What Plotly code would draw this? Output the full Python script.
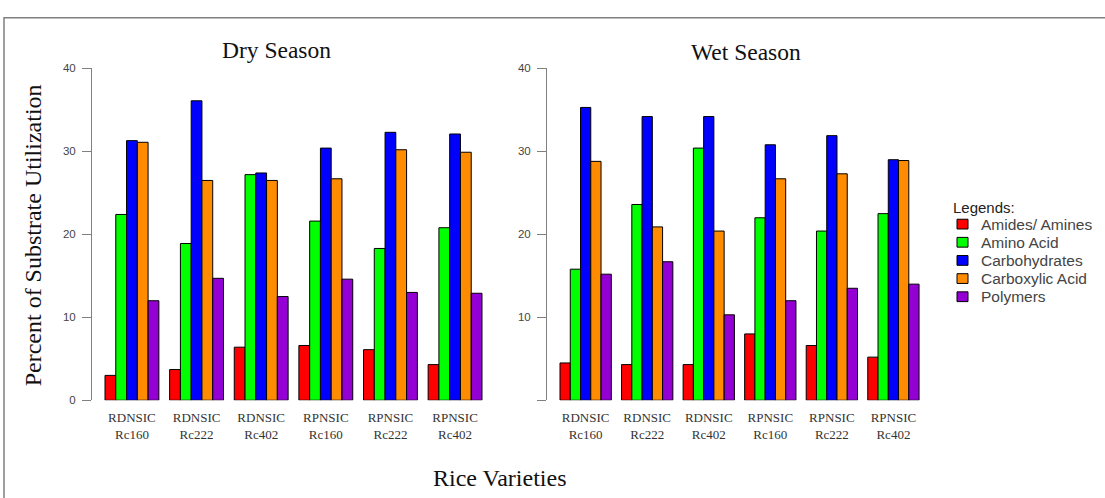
import plotly.graph_objects as go

# Rice varieties (two-line tick labels)
varieties = ["RDNSIC<br>Rc160", "RDNSIC<br>Rc222", "RDNSIC<br>Rc402",
             "RPNSIC<br>Rc160", "RPNSIC<br>Rc222", "RPNSIC<br>Rc402"]

substrates = ["Amides/ Amines", "Amino Acid", "Carbohydrates", "Carboxylic Acid", "Polymers"]
colors = ["#FF0000", "#00FF00", "#0000FF", "#FF8C00", "#9400D3"]

# Dry season: percent of substrate utilization
dry_amides = [3.0, 3.7, 6.4, 6.6, 6.1, 4.3]
dry_amino = [22.4, 18.9, 27.2, 21.6, 18.3, 20.8]
dry_carbo = [31.3, 36.1, 27.4, 30.4, 32.3, 32.1]
dry_carboxylic = [31.1, 26.5, 26.5, 26.7, 30.2, 29.9]
dry_polymers = [12.0, 14.7, 12.5, 14.6, 13.0, 12.9]

# Wet season: percent of substrate utilization
wet_amides = [4.5, 4.3, 4.3, 8.0, 6.6, 5.2]
wet_amino = [15.8, 23.6, 30.4, 22.0, 20.4, 22.5]
wet_carbo = [35.3, 34.2, 34.2, 30.8, 31.9, 29.0]
wet_carboxylic = [28.8, 20.9, 20.4, 26.7, 27.3, 28.9]
wet_polymers = [15.2, 16.7, 10.3, 12.0, 13.5, 14.0]

dry = [dry_amides, dry_amino, dry_carbo, dry_carboxylic, dry_polymers]
wet = [wet_amides, wet_amino, wet_carbo, wet_carboxylic, wet_polymers]

SERIF = "Liberation Serif, Times New Roman, serif"
SANS = "Liberation Sans, Arial, sans-serif"
W, H = 1105, 498


def px_x(p):
    return p / W


def px_y(p):
    return 1 - p / H


fig = go.Figure()

for name, color, dv, wv in zip(substrates, colors, dry, wet):
    fig.add_trace(go.Bar(x=varieties, y=dv, name=name, legendgroup=name,
                         marker=dict(color=color, line=dict(color="#000000", width=1)),
                         xaxis="x", yaxis="y", showlegend=False))
    fig.add_trace(go.Bar(x=varieties, y=wv, name=name, legendgroup=name,
                         marker=dict(color=color, line=dict(color="#000000", width=1)),
                         xaxis="x2", yaxis="y2", showlegend=False))

y_domain = [px_y(404), px_y(64)]

xaxis_common = dict(type="category", showline=False, showgrid=False, zeroline=False,
                    ticks="", tickfont=dict(family=SERIF, size=13, color="#333333"),
                    ticklabelstandoff=8, fixedrange=True)
yaxis_common = dict(range=[0, 40], showline=True, linecolor="#808080", linewidth=1,
                    ticks="outside", ticklen=9, tickcolor="#808080", tickwidth=1,
                    showgrid=False, zeroline=False, domain=y_domain,
                    tickfont=dict(family=SANS, size=11.5, color="#444444"),
                    ticklabelstandoff=4, fixedrange=True)

fig.update_layout(
    width=W, height=H,
    margin=dict(l=0, r=0, t=0, b=0),
    paper_bgcolor="white", plot_bgcolor="white",
    barmode="group", bargap=1 / 6, bargroupgap=0,
    xaxis=dict(domain=[px_x(92), px_x(495)], range=[-0.618, 5.618], anchor="y", **xaxis_common),
    xaxis2=dict(domain=[px_x(547), px_x(932)], range=[-0.628, 5.627], anchor="y2", **xaxis_common),
    yaxis=dict(anchor="x", tickvals=[0, 10, 20, 30, 40], **yaxis_common),
    yaxis2=dict(anchor="x2", tickvals=[0, 10, 20, 30, 40],
                ticktext=["", "10", "20", "30", "40"], **yaxis_common),
    showlegend=False,
)

# Outer frame
fig.add_shape(type="rect", xref="paper", yref="paper",
              x0=px_x(4), x1=px_x(1120), y0=px_y(520), y1=px_y(12),
              line=dict(color="#808080", width=1.5), fillcolor="rgba(0,0,0,0)", layer="below")

# Panel titles and axis titles
annots = [
    dict(text="Dry Season", x=px_x(276), y=px_y(45), size=23.5, angle=0),
    dict(text="Wet Season", x=px_x(746), y=px_y(47), size=23.5, angle=0),
    dict(text="Rice Varieties", x=px_x(500), y=px_y(484), size=24, angle=0),
    dict(text="Percent of Substrate Utilization", x=px_x(33), y=px_y(235), size=24, angle=-90),
]
for a in annots:
    fig.add_annotation(text=a["text"], x=a["x"], y=a["y"], xref="paper", yref="paper",
                       xanchor="center", yanchor="middle", showarrow=False, textangle=a["angle"],
                       font=dict(family=SERIF, size=a["size"], color="#111111"))

# Legend box: title, colour swatches and labels
fig.add_annotation(text="Legends:", x=px_x(951), y=px_y(206), xref="paper", yref="paper",
                   xanchor="left", yanchor="middle", showarrow=False,
                   font=dict(family=SANS, size=15, color="#222222"))
for i, (name, color) in enumerate(zip(substrates, colors)):
    yc = 223.5 + i * 18.6
    fig.add_shape(type="rect", xref="paper", yref="paper",
                  x0=px_x(957), x1=px_x(968), y0=px_y(yc + 5), y1=px_y(yc - 5),
                  line=dict(color="#000000", width=1), fillcolor=color)
    fig.add_annotation(text=name, x=px_x(979), y=px_y(yc), xref="paper", yref="paper",
                       xanchor="left", yanchor="middle", showarrow=False,
                       font=dict(family=SANS, size=15.5, color="#444444"))

fig.write_html("out.html")
